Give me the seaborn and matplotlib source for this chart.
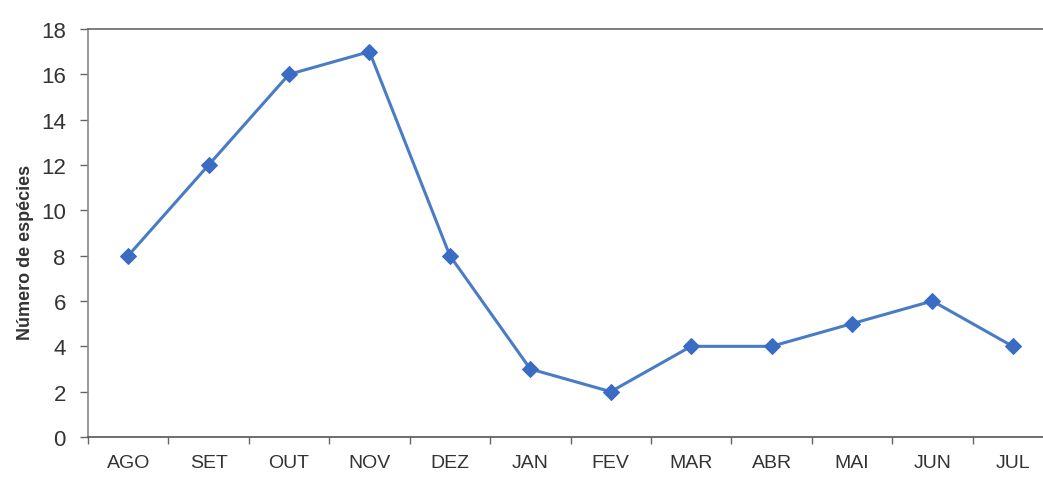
import matplotlib
matplotlib.use("Agg")
import matplotlib.pyplot as plt
import seaborn as sns
import pandas as pd
import numpy as np

months = ["AGO", "SET", "OUT", "NOV", "DEZ", "JAN", "FEV", "MAR", "ABR", "MAI", "JUN", "JUL"]
especies = [8, 12, 16, 17, 8, 3, 2, 4, 4, 5, 6, 4]
yticks = [0, 2, 4, 6, 8, 10, 12, 14, 16, 18]

sns.set_theme(style="white")
plt.rcParams['font.family'] = ['Liberation Sans', 'DejaVu Sans']

df = pd.DataFrame({"mes": months, "n": especies, "pos": np.arange(len(months))})

fig = plt.figure(figsize=(10.43, 4.85), dpi=100)
ax = fig.add_axes([88/1043, 1 - 438/485, (1053 - 88)/1043, (438 - 30)/485])

sns.lineplot(data=df, x="pos", y="n", ax=ax, color="#4a7cc6", linewidth=2.2,
             marker="D", markersize=8.5, markerfacecolor="#3a6cc4",
             markeredgecolor="#3a6cc4")

ax.set_xlim(-0.5, len(months) - 0.5)
ax.set_ylim(0, 18)
ax.set_yticks(yticks)
ax.set_yticklabels([str(v) for v in yticks], fontsize=16, color="#333333")
ax.set_xticks(np.arange(len(months)))
ax.set_xticklabels(months, fontsize=14, color="#333333")
ax.set_xticks(np.arange(len(months) + 1) - 0.5, minor=True)
ax.tick_params(axis="x", which="major", bottom=True, length=0, pad=12)
ax.tick_params(axis="x", which="minor", bottom=True, length=5, width=1, color="#666666", direction="out")
ax.tick_params(axis="y", which="major", left=True, length=6, width=1, color="#666666", direction="out", pad=10)
ax.set_xlabel("")
ax.set_ylabel("Número de espécies", fontsize=13, fontweight="bold", color="#333333")
ax.yaxis.set_label_coords(-0.056, 0.456)

ax.spines["right"].set_visible(False)
ax.spines["left"].set_color("#888888")
ax.spines["bottom"].set_color("#555555")
ax.spines["top"].set_color("#666666")
for s in ["left", "bottom", "top"]:
    ax.spines[s].set_linewidth(1.2)

fig.savefig("out.png", dpi=100)
